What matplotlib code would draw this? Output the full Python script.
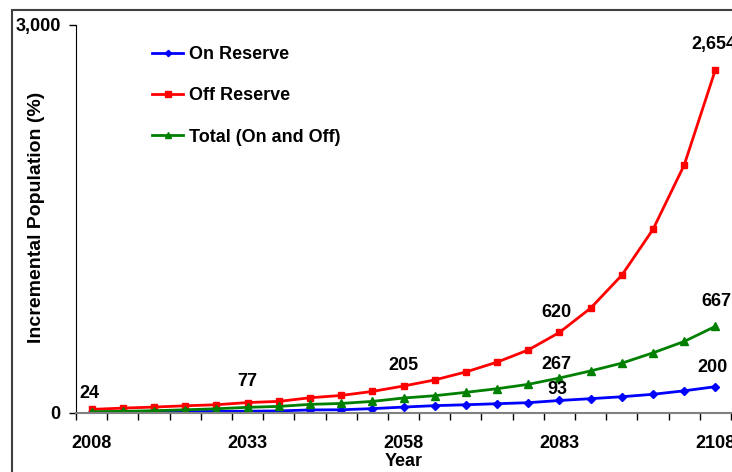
import matplotlib
matplotlib.use("Agg")
import matplotlib.pyplot as plt
from matplotlib.patches import Rectangle

plt.rcParams['font.family'] = ['Liberation Sans', 'DejaVu Sans']

years = list(range(2008, 2109, 5))
on_reserve = [2, 3, 4, 6, 8, 10, 12, 20, 21, 30, 42, 53, 60, 68, 76, 93, 107, 122, 141, 168, 200]
off_reserve = [24, 34, 42, 52, 60, 77, 86, 114, 132, 163, 205, 252, 314, 390, 484, 620, 808, 1063, 1418, 1916, 2654]
total = [6, 9, 14, 21, 29, 40, 47, 63, 70, 86, 112, 130, 156, 184, 218, 267, 322, 382, 462, 550, 667]

# (series, index, label, offset in points)
labels = [
    ("off", 0, "24", (-1.5, 11.5)),
    ("off", 5, "77", (0, 15)),
    ("off", 10, "205", (0, 14.5)),
    ("off", 15, "620", (-2, 14.5)),
    ("tot", 15, "267", (-2, 10)),
    ("on", 15, "93", (-1.5, 8)),
    ("off", 20, "2,654", (-1, 18)),
    ("tot", 20, "667", (1, 18)),
    ("on", 20, "200", (-2, 13.7)),
]

FS = 13

fig = plt.figure(figsize=(7.32, 4.72), dpi=100)
ax = fig.add_axes([76 / 732, 1 - 412.5 / 472, 655 / 732, 387.5 / 472])

x = list(range(len(years)))
ax.plot(x, on_reserve, color=(0, 0, 1), lw=2, marker='D', ms=4, label='On Reserve')
ax.plot(x, off_reserve, color=(1, 0, 0), lw=2, marker='s', ms=5, label='Off Reserve')
ax.plot(x, total, color=(0, 0.5, 0), lw=2, marker='^', ms=6, label='Total (On and Off)')

series = {"on": on_reserve, "off": off_reserve, "tot": total}
for s, i, txt, off in labels:
    ax.annotate(txt, (i, series[s][i]), xytext=off, textcoords='offset points',
                ha='center', va='center', fontsize=FS, fontweight='bold', annotation_clip=False)

ax.set_xlim(-0.5, len(years) - 0.5)
ax.set_ylim(0, 3000)
ax.set_xticks([0, 5, 10, 15, 20])
ax.set_xticklabels([str(years[i]) for i in [0, 5, 10, 15, 20]], fontsize=FS, fontweight='bold')
ax.set_xticks([i - 0.5 for i in range(len(years) + 1)], minor=True)
ax.tick_params(axis='x', which='major', length=0, pad=16)
ax.tick_params(axis='x', which='minor', length=5, width=1, direction='out')
ax.set_yticks([0, 3000])
ax.set_yticklabels(['0', '3,000'], fontsize=FS, fontweight='bold')
ax.tick_params(axis='y', length=5, width=1, direction='out', pad=6)

ax.spines['top'].set_visible(False)
ax.spines['right'].set_visible(False)
ax.spines['bottom'].set_color('#808080')
ax.spines['bottom'].set_linewidth(1.5)

ax.set_xlabel('Year', fontsize=FS, fontweight='bold', va='center')
ax.xaxis.set_label_coords(0.5, (412.5 - 462) / 387.5)
ax.set_ylabel('Incremental Population (%)', fontsize=14, fontweight='bold', va='center')
ax.yaxis.set_label_coords((37 - 76) / 655, (412.5 - 217) / 387.5)

ax.legend(loc='upper left', bbox_to_anchor=(0.091, 0.988), frameon=False, prop={'size': FS, 'weight': 'bold'},
          handlelength=1.75, handletextpad=0.3, labelspacing=1.35, markerscale=0.8)

# outer chart border (only left and top visible in the crop)
fig.patches.append(Rectangle((12 / 732, -0.5), 2, 1.5 - 10 / 472, transform=fig.transFigure,
                             fill=False, edgecolor='#404040', lw=1.5))

fig.savefig('out.png', dpi=100)
